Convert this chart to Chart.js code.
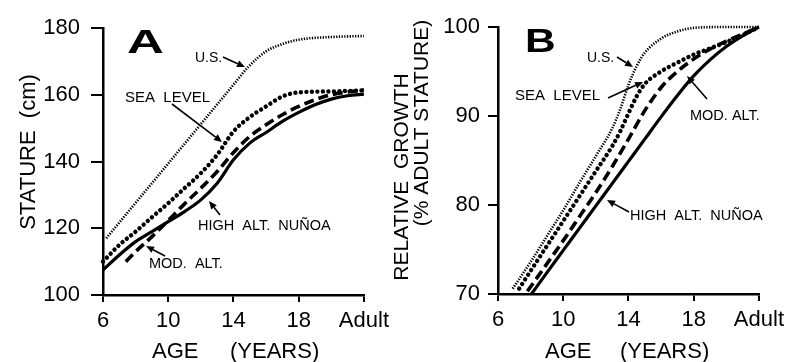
<!DOCTYPE html>
<html><head><meta charset="utf-8">
<script src="https://cdn.jsdelivr.net/npm/chart.js@4/dist/chart.umd.min.js"></script>
<style>
html,body{margin:0;padding:0;background:#fff;}
#wrap{position:relative;width:790px;height:362px;overflow:hidden;background:#fff;}
canvas{position:absolute;top:0;}
</style></head><body>
<div id="wrap">
<canvas id="cA" width="395" height="362" style="left:0"></canvas>
<canvas id="cB" width="410" height="362" style="left:380px"></canvas>
</div>
<script>
// ---- tick labels ----
const xTickValues = [6, 10, 14, 18, 22];
const xTickLabels = ['6', '10', '14', '18', 'Adult'];
const yTicksA = [100, 120, 140, 160, 180];
const yTicksB = [70, 80, 90, 100];
const seriesNames = ['U.S.', 'SEA LEVEL', 'MOD. ALT.', 'HIGH ALT. NUÑOA'];

// ---- Panel A: stature (cm) ----
const usAgeA   = [6.2, 8, 10, 12, 14, 14.9, 16, 17, 18, 20, 22];
const usA      = [117, 127.6, 139.4, 151.2, 163, 168.3, 173, 175.2, 176.5, 177.3, 177.6];
const seaAgeA  = [6, 7, 8, 9, 10, 11, 12, 13, 14, 15, 16, 17, 18, 20, 22];
const seaA     = [110, 115, 119, 123.3, 127.5, 132, 136.5, 142, 149, 153.3, 156.5, 159.5, 160.7, 161, 161.3];
const modAgeA  = [7.4, 8, 9, 10, 11, 12, 13, 14, 15, 16, 17, 18, 19, 20, 22];
const modA     = [110, 113, 117.5, 122.3, 127.3, 132, 137, 142.7, 147.5, 151, 154, 156.5, 158.5, 160, 161.5];
const highAgeA = [6, 7, 8, 9, 10, 11, 12, 13, 14, 15, 16, 17, 18, 19, 20, 21, 22];
const highA    = [107.5, 112, 116, 119, 122, 125, 128.5, 133.5, 140.5, 145.5, 148.7, 152, 154.7, 157, 158.7, 159.7, 160.2];

// ---- Panel B: relative growth (% adult stature) ----
const usAgeB   = [6.9, 8, 9, 10, 11, 12, 13, 13.5, 14, 14.5, 15, 16, 17, 18, 20, 22];
const usB      = [70.6, 73.6, 76.5, 79.4, 82.5, 85.5, 88.6, 90.8, 93.5, 95.6, 97.1, 98.7, 99.5, 99.9, 100, 100];
const seaAgeB  = [7.3, 8, 9, 10, 11, 12, 13, 13.5, 14, 14.5, 15, 16, 17, 18, 19, 20, 21, 22];
const seaB     = [70.6, 72.6, 75.4, 78.2, 81, 83.8, 86.6, 88.3, 90.3, 92.2, 93.6, 95, 96, 96.9, 97.6, 98.3, 99.1, 100];
const modAgeB  = [7.8, 9, 10, 11, 12, 13, 14, 15, 16, 17, 18, 19, 20, 21, 22];
const modB     = [70.3, 73.4, 76, 78.7, 81.4, 84.3, 87.4, 90.6, 93.2, 95, 96.4, 97.5, 98.4, 99.2, 100];
const highAgeB = [8.05, 9, 10, 11, 12, 13, 14, 15, 16, 17, 18, 19, 20, 21, 22];
const highB    = [70, 72.4, 74.9, 77.4, 79.9, 82.4, 84.9, 87.4, 89.9, 92.3, 94.5, 96.3, 97.8, 99, 100];

const FONT = "'Liberation Sans', Arial, sans-serif";
const pts = (xs, ys) => xs.map((x, i) => ({x: x, y: ys[i]}));

const styles = [
  {borderWidth: 2.6, borderDash: [1.3, 1.4], borderCapStyle: 'butt'},
  {borderWidth: 4.4, borderDash: [0.01, 5.5], borderCapStyle: 'round'},
  {borderWidth: 3.6, borderDash: [10, 5], borderCapStyle: 'butt'},
  {borderWidth: 3.2, borderDash: [], borderCapStyle: 'butt'}
];

function makeDatasets(list) {
  return list.map((d, i) => Object.assign({
    label: seriesNames[i], data: pts(d[0], d[1]),
    borderColor: '#000', backgroundColor: '#000', pointRadius: 0,
    fill: false, cubicInterpolationMode: 'monotone', clip: 8
  }, styles[i]));
}

function arrow(ctx, x1, y1, x2, y2) {
  ctx.save();
  ctx.strokeStyle = '#000'; ctx.fillStyle = '#000'; ctx.lineWidth = 1.6;
  const a = Math.atan2(y2 - y1, x2 - x1), L = 8, W = 3.5;
  const bx = x2 - L * Math.cos(a), by = y2 - L * Math.sin(a);
  ctx.beginPath(); ctx.moveTo(x1, y1); ctx.lineTo(bx, by); ctx.stroke();
  ctx.beginPath(); ctx.moveTo(x2, y2);
  ctx.lineTo(bx + W * Math.sin(a), by - W * Math.cos(a));
  ctx.lineTo(bx - W * Math.sin(a), by + W * Math.cos(a));
  ctx.closePath(); ctx.fill();
  ctx.restore();
}

function annotPlugin(cfg) {
  return {
    id: 'annot',
    afterDraw(chart) {
      const ctx = chart.ctx;
      ctx.save();
      ctx.fillStyle = '#000';
      ctx.save();
      ctx.font = 'bold 34px ' + FONT;
      ctx.textBaseline = 'alphabetic';
      ctx.translate(cfg.letter.x, cfg.letter.y);
      ctx.scale(cfg.letter.sx, 1);
      ctx.fillText(cfg.letter.t, 0, 0);
      ctx.restore();
      cfg.texts.forEach(t => {
        ctx.font = (t.size || 15) + 'px ' + FONT;
        ctx.textAlign = 'left'; ctx.textBaseline = 'alphabetic';
        ctx.fillText(t.t, t.x, t.y);
      });
      cfg.arrows.forEach(a => arrow(ctx, a[0], a[1], a[2], a[3]));
      cfg.ytitles.forEach(t => {
        ctx.save();
        ctx.font = t.size + 'px ' + FONT;
        ctx.translate(t.x, t.y); ctx.rotate(-Math.PI / 2);
        ctx.textAlign = 'center'; ctx.textBaseline = 'middle';
        ctx.fillText(t.t, 0, 0);
        ctx.restore();
      });
      ctx.font = '22px ' + FONT; ctx.textAlign = 'left'; ctx.textBaseline = 'alphabetic';
      cfg.xtitle.forEach(t => ctx.fillText(t.t, t.x, t.y));
      ctx.restore();
    }
  };
}

function makeChart(id, datasets, yTicks, ymin, ymax, yw, pad, cfg, tickLen, tickPad) {
  return new Chart(document.getElementById(id), {
    type: 'line',
    data: {datasets: datasets},
    options: {
      responsive: false, animation: false, devicePixelRatio: 1,
      layout: {padding: {left: pad.left, top: pad.top, right: pad.right, bottom: 0}},
      plugins: {legend: {display: false}, tooltip: {enabled: false}},
      scales: {
        x: {
          type: 'linear', min: 6, max: 22,
          afterBuildTicks: s => { s.ticks = xTickValues.map(v => ({value: v})); },
          afterFit: s => { s.height = 362 - pad.top - pad.bottomArea; },
          ticks: {callback: v => xTickLabels[xTickValues.indexOf(v)], color: '#000',
                  font: {family: FONT, size: 22}, padding: 6, maxRotation: 0, autoSkip: false},
          grid: {display: true, drawOnChartArea: false, drawTicks: true, tickLength: 7, color: '#000', lineWidth: 2},
          border: {display: true, color: '#000', width: 2.5}
        },
        y: {
          min: ymin, max: ymax,
          afterBuildTicks: s => { s.ticks = yTicks.map(v => ({value: v})); },
          afterFit: s => { s.width = yw; },
          ticks: {color: '#000', font: {family: FONT, size: 22}, padding: tickPad},
          grid: {display: true, drawOnChartArea: false, drawTicks: true, tickLength: tickLen, color: '#000', lineWidth: 2},
          border: {display: true, color: '#000', width: 2.5}
        }
      }
    },
    plugins: [annotPlugin(cfg)]
  });
}

// Panel A
makeChart('cA', makeDatasets([[usAgeA, usA], [seaAgeA, seaA], [modAgeA, modA], [highAgeA, highA]]),
  yTicksA, 100, 180, 103, {left: 0, top: 28, right: 28, bottomArea: 267}, {
    letter: {t: 'A', x: 127, y: 53, sx: 1.5},
    texts: [
      {t: 'U.S.', x: 195, y: 62, size: 14},
      {t: 'SEA  LEVEL', x: 125, y: 102},
      {t: 'HIGH  ALT.  NUÑOA', x: 198, y: 230, size: 14.5},
      {t: 'MOD.  ALT.', x: 149, y: 268, size: 14.5}
    ],
    arrows: [[223, 57, 245, 67], [172, 104, 222, 142], [220, 215, 209, 201], [165, 256, 146, 246]],
    ytitles: [{t: 'STATURE  (cm)', x: 29, y: 152, size: 22}],
    xtitle: [{t: 'AGE', x: 152, y: 358}, {t: '(YEARS)', x: 230, y: 358}]
  }, 12, 11);

// Panel B
makeChart('cB', makeDatasets([[usAgeB, usB], [seaAgeB, seaB], [modAgeB, modB], [highAgeB, highB]]),
  yTicksB, 70, 100, 118, {left: 0, top: 27, right: 28, bottomArea: 267}, {
    letter: {t: 'B', x: 145, y: 52, sx: 1.25},
    texts: [
      {t: 'U.S.', x: 207, y: 62, size: 14},
      {t: 'SEA  LEVEL', x: 135, y: 100},
      {t: 'MOD. ALT.', x: 310, y: 120, size: 14.5},
      {t: 'HIGH  ALT.  NUÑOA', x: 250, y: 220, size: 14.5}
    ],
    arrows: [[237, 57, 253, 67], [228, 98, 263, 82], [327, 99, 307, 76], [249, 212, 227, 200]],
    ytitles: [{t: 'RELATIVE  GROWTH', x: 22, y: 177, size: 21}, {t: '(% ADULT STATURE)', x: 42, y: 123, size: 21}],
    xtitle: [{t: 'AGE', x: 165, y: 358}, {t: '(YEARS)', x: 240, y: 358}]
  }, 10, 8);
</script>
</body></html>
